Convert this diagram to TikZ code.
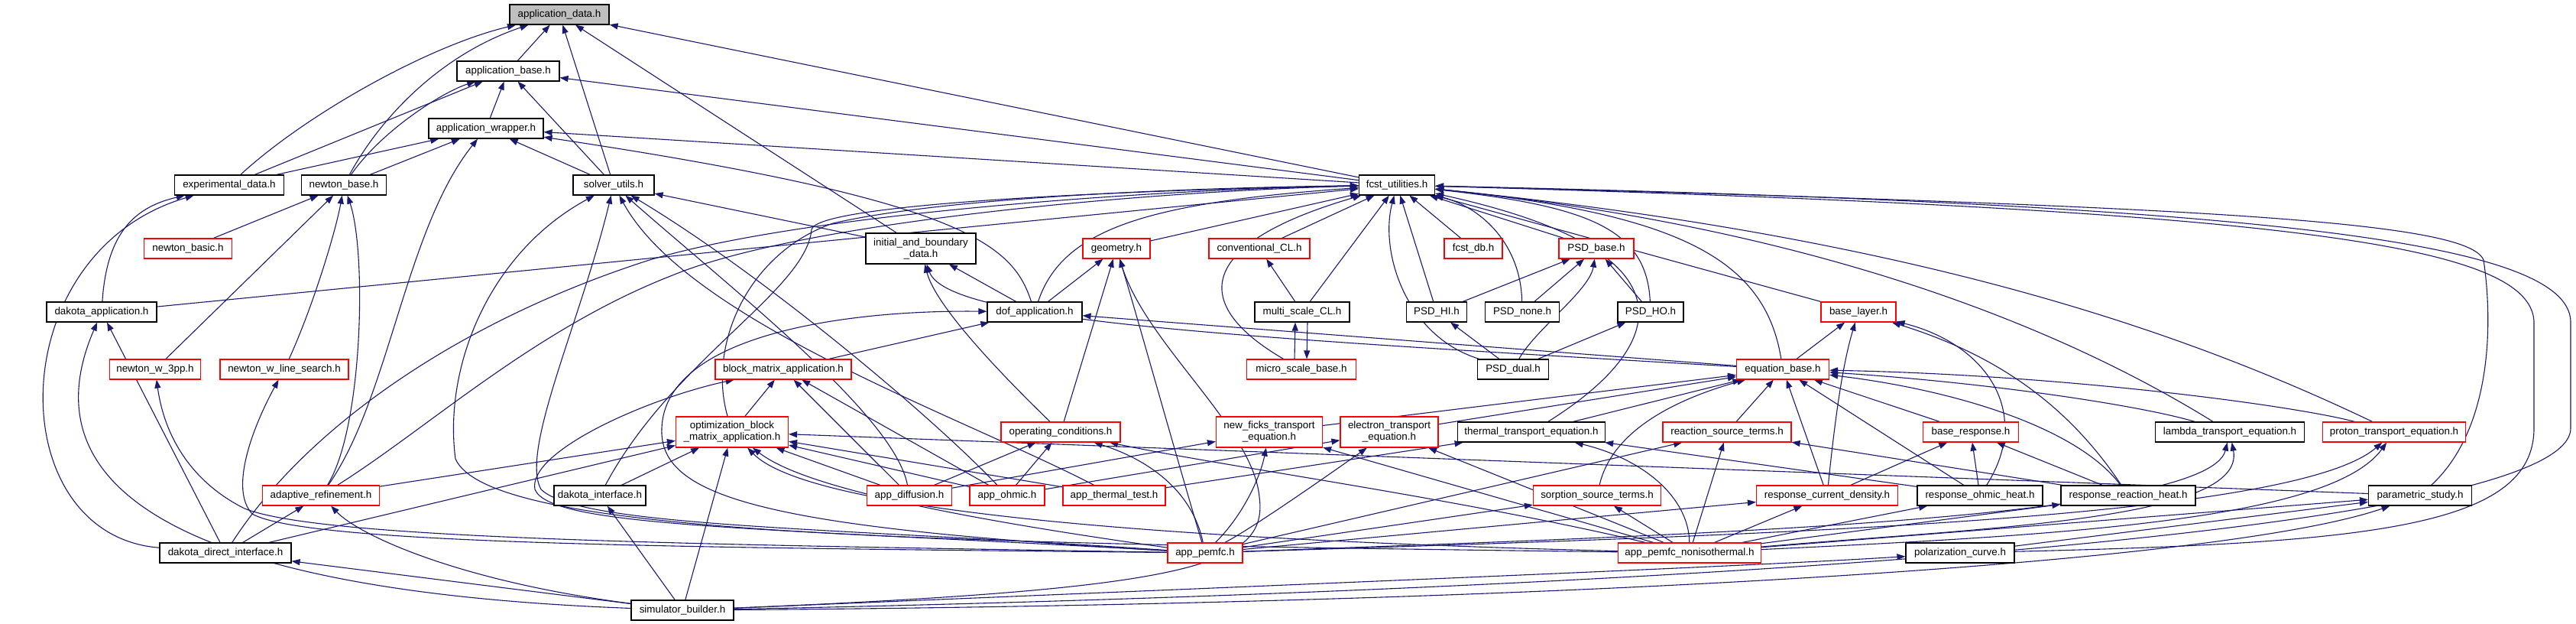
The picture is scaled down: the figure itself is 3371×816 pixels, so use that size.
\documentclass[tikz,border=0pt]{standalone}
\usepackage{fontspec}
\setmainfont{Liberation Sans}
\usetikzlibrary{arrows.meta,backgrounds,calc}
\definecolor{edgec}{HTML}{191970}
\definecolor{nodered}{HTML}{FF0000}
\definecolor{rootgray}{HTML}{BFBFBF}
\newcommand{\fsz}{\fontsize{13.4}{15}\selectfont}
\begin{document}
\begin{tikzpicture}[x=1pt,y=-1pt,
 nb/.style={draw=black, line width=1.2pt, fill=white, minimum height=26pt, inner sep=0pt, font=\fsz, align=center},
 nr/.style={nb, draw=nodered},
 tl/.style={minimum height=40pt},
 e/.style={draw=edgec, line width=1.1pt, -{Triangle[length=11pt,width=8pt]}},
]
\useasboundingbox (0,0) rectangle (3371,816);
% nodes
\node[nb,fill=rootgray,minimum width=130pt] (AD) at (732,19) {application\_data.h};
\node[nb,minimum width=134pt] (AB) at (665,93) {application\_base.h};
\node[nb,minimum width=150pt] (AW) at (636,168) {application\_wrapper.h};
\node[nb,minimum width=143pt] (ED) at (300,242) {experimental\_data.h};
\node[nb,minimum width=111pt] (NB) at (450,242) {newton\_base.h};
\node[nb,minimum width=106pt] (SU) at (803,242) {solver\_utils.h};
\node[nb,minimum width=99pt] (FU) at (1828,242) {fcst\_utilities.h};
\node[nr,minimum width=115pt] (NBa) at (246,325) {newton\_basic.h};
\node[nb,tl,minimum width=144pt] (IB) at (1205,325) {initial\_and\_boundary\\\_data.h};
\node[nr,minimum width=88pt] (GE) at (1461,325) {geometry.h};
\node[nr,minimum width=132pt] (CC) at (1648,325) {conventional\_CL.h};
\node[nr,minimum width=76pt] (FD) at (1928,325) {fcst\_db.h};
\node[nr,minimum width=98pt] (PB) at (2089,325) {PSD\_base.h};
\node[nb,minimum width=144pt] (DA) at (133,408) {dakota\_application.h};
\node[nb,minimum width=124pt] (DOF) at (1354,408) {dof\_application.h};
\node[nb,minimum width=124pt] (MS) at (1704,408) {multi\_scale\_CL.h};
\node[nb,minimum width=79pt] (PHI) at (1880,408) {PSD\_HI.h};
\node[nb,minimum width=97pt] (PN) at (1992,408) {PSD\_none.h};
\node[nb,minimum width=86pt] (PHO) at (2160,408) {PSD\_HO.h};
\node[nr,minimum width=98pt] (BL) at (2432,408) {base\_layer.h};
\node[nr,minimum width=119pt] (NW3) at (203,483) {newton\_w\_3pp.h};
\node[nr,minimum width=168pt] (NWL) at (372,483) {newton\_w\_line\_search.h};
\node[nr,minimum width=178pt] (BMA) at (1025,483) {block\_matrix\_application.h};
\node[nr,minimum width=143pt] (MSB) at (1703,483) {micro\_scale\_base.h};
\node[nb,minimum width=93pt] (PD) at (1980,483) {PSD\_dual.h};
\node[nr,minimum width=121pt] (EB) at (2333,483) {equation\_base.h};
\node[nr,tl,minimum width=147pt] (OBM) at (958,565) {optimization\_block\\\_matrix\_application.h};
\node[nr,minimum width=156pt] (OC) at (1388,565) {operating\_conditions.h};
\node[nr,tl,minimum width=139pt] (NF) at (1661,565) {new\_ficks\_transport\\\_equation.h};
\node[nr,tl,minimum width=128pt] (ET) at (1818,565) {electron\_transport\\\_equation.h};
\node[nb,minimum width=193pt] (TT) at (2004,565) {thermal\_transport\_equation.h};
\node[nr,minimum width=168pt] (RST) at (2260,565) {reaction\_source\_terms.h};
\node[nr,minimum width=125pt] (BR) at (2579,565) {base\_response.h};
\node[nb,minimum width=195pt] (LT) at (2918,565) {lambda\_transport\_equation.h};
\node[nr,minimum width=187pt] (PT) at (3133,565) {proton\_transport\_equation.h};
\node[nr,minimum width=153pt] (AR) at (420,648) {adaptive\_refinement.h};
\node[nb,minimum width=120pt] (DI) at (785,648) {dakota\_interface.h};
\node[nr,minimum width=111pt] (ADf) at (1190,648) {app\_diffusion.h};
\node[nr,minimum width=98pt] (AO) at (1318,648) {app\_ohmic.h};
\node[nr,minimum width=134pt] (ATT) at (1458,648) {app\_thermal\_test.h};
\node[nr,minimum width=167pt] (SST) at (2090,648) {sorption\_source\_terms.h};
\node[nr,minimum width=185pt] (RCD) at (2391,648) {response\_current\_density.h};
\node[nb,minimum width=164pt] (ROH) at (2591,648) {response\_ohmic\_heat.h};
\node[nb,minimum width=176pt] (RRH) at (2785,648) {response\_reaction\_heat.h};
\node[nb,minimum width=135pt] (PS) at (3167,648) {parametric\_study.h};
\node[nb,minimum width=172pt] (DDI) at (295,723) {dakota\_direct\_interface.h};
\node[nr,minimum width=98pt] (AP) at (1577,723) {app\_pemfc.h};
\node[nr,minimum width=187pt] (APN) at (2211,723) {app\_pemfc\_nonisothermal.h};
\node[nb,minimum width=142pt] (PC) at (2565,723) {polarization\_curve.h};
\node[nb,minimum width=134pt] (SB) at (893,798) {simulator\_builder.h};
\begin{scope}[on background layer]
\fill[white] (0,0) rectangle (3371,816);
% top cluster
\draw[e] (AB) -- (AD);
\draw[e] (ED) .. controls (400,150) and (560,60) .. (AD);
\draw[e] (NB) .. controls (500,150) and (580,70) .. (AD);
\draw[e] (SU) -- (AD);
\draw[e] (IB) -- (AD);
\draw[e] (FU) -- (AD);
\draw[e] (AW) -- (AB);
\draw[e] (ED) -- (AB);
\draw[e] (NB) .. controls (500,170) and (580,120) .. (AB);
\draw[e] (SU) -- (AB);
\draw[e] (FU) -- (AB);
\draw[e] (ED) -- (AW);
\draw[e] (NB) -- (AW);
\draw[e] (SU) -- (AW);
\draw[e] (FU) -- (AW);
\draw[e] (AR) .. controls (510,520) and (530,300) .. (AW);
\draw[e] (DOF) .. controls (1325,320) and (1265,262) .. (AW);
\draw[e] (DDI) .. controls (0,700) and (0,330) .. (ED);
\draw[e] (DA) .. controls (140,300) and (180,270) .. (ED);
\draw[e] (NBa) -- (NB);
\draw[e] (NW3) -- (NB);
\draw[e] (NWL) .. controls (410,400) and (440,300) .. (NB);
\draw[e] (AR) .. controls (475,560) and (480,330) .. (NB);
\draw[e] (IB) -- (SU);
\draw[e] (ADf) .. controls (1171,544) and (960,380) .. (SU);
\draw[e] (AO) .. controls (1219,544) and (1000,360) .. (SU);
\draw[e] (ATT) .. controls (1257,544) and (900,420) .. (SU);
\draw[e] (AP) .. controls (1100,690) and (760,690) .. (708,640) .. controls (680,590) and (760,420) .. (SU);
\draw[e] (APN) .. controls (1200,710) and (640,700) .. (596,600) .. controls (580,480) and (640,330) .. (SU);
% into fcst_utilities
\draw[e] (DA) -- (FU);
\draw[e] (AR) .. controls (560,560) and (700,430) .. (880,360) .. controls (1050,290) and (1500,250) .. (FU);
\draw[e] (DDI) .. controls (400,560) and (600,420) .. (850,340) .. controls (1050,280) and (1500,248) .. (FU);
\draw[e] (OBM) .. controls (925,450) and (980,330) .. (1090,292) .. controls (1250,255) and (1600,245) .. (FU);
\draw[e] (DI) .. controls (880,470) and (1055,380) .. (1062,300) .. controls (1070,265) and (1500,248) .. (FU);
\draw[e] (DOF) .. controls (1390,300) and (1500,265) .. (FU);
\draw[e] (GE) -- (FU);
\draw[e] (CC) -- (FU);
\draw[e] (MS) -- (FU);
\draw[e] (FD) -- (FU);
\draw[e] (PB) -- (FU);
\draw[e] (PHI) -- (FU);
\draw[e] (MSB) .. controls (1560,400) and (1560,320) .. (FU);
\draw[e] (PN) .. controls (1990,320) and (1940,272) .. (FU);
\draw[e] (PHO) .. controls (2155,300) and (2080,270) .. (FU);
\draw[e] (PD) .. controls (1840,440) and (1805,330) .. (FU);
\draw[e] (TT) .. controls (2180,455) and (2230,330) .. (FU);
\draw[e] (EB) .. controls (2310,340) and (2200,280) .. (FU);
\draw[e] (BL) -- (FU);
\draw[e] (LT) .. controls (2716,440) and (2400,300) .. (FU);
\draw[e] (PT) .. controls (2850,430) and (2500,310) .. (FU);
\draw[e] (PS) .. controls (3262,560) and (3262,420) .. (3250,340) .. controls (3230,290) and (2900,270) .. (FU);
\draw[e] (PC) .. controls (3100,710) and (3316,690) .. (3316,560) -- (3316,420) .. controls (3310,320) and (3000,275) .. (FU);
\draw[e] (SB) .. controls (1800,780) and (3364,720) .. (3364,560) -- (3364,420) .. controls (3360,320) and (3000,268) .. (FU);
% middle
\draw[e] (DOF) -- (IB);
\draw[e] (DOF) -- (GE);
\draw[e] (BMA) -- (DOF);
\draw[e] (AP) .. controls (1000,690) and (862,650) .. (866,560) .. controls (870,440) and (1100,405) .. (DOF);
\draw[e] (EB) -- (DOF);
\draw[e] (EB) .. controls (1600,440) and (1240,420) .. (IB);
\draw[e] (OC) .. controls (1251,432) and (1219,380) .. (IB);
\draw[e] (OC) -- (GE);
\draw[e] (AP) .. controls (1540,600) and (1490,420) .. (GE);
\draw[e] (SB) .. controls (1560,770) and (1660,740) .. (1648,650) .. controls (1640,560) and (1500,450) .. (GE);
\draw[e] (MS) -- (CC);
\draw[e] ([xshift=-9pt]MSB.north) -- ([xshift=-9pt]MS.south);
\draw[e] ([xshift=7pt]MS.south) -- ([xshift=7pt]MSB.north);
\draw[e] (PHI) -- (PB);
\draw[e] (PN) -- (PB);
\draw[e] (PHO) -- (PB);
\draw[e] (PD) .. controls (2010,430) and (2080,380) .. (PB);
\draw[e] (PD) -- (PHI);
\draw[e] (PD) -- (PHO);
\draw[e] (EB) -- (BL);
\draw[e] (RCD) .. controls (2400,560) and (2410,480) .. (BL);
\draw[e] (ROH) .. controls (2660,540) and (2600,450) .. (BL);
\draw[e] (RRH) .. controls (2700,520) and (2600,460) .. (BL);
% into equation_base
\draw[e] (NF) -- (EB);
\draw[e] (ET) -- (EB);
\draw[e] (TT) -- (EB);
\draw[e] (SST) .. controls (2110,560) and (2200,520) .. (EB);
\draw[e] (RST) -- (EB);
\draw[e] (RCD) -- (EB);
\draw[e] (ROH) -- (EB);
\draw[e] (BR) -- (EB);
\draw[e] (LT) .. controls (2800,530) and (2600,500) .. (EB);
\draw[e] (PT) .. controls (3000,530) and (2700,490) .. (EB);
\draw[e] (RRH) .. controls (2720,560) and (2560,510) .. (EB);
\draw[e] (RRH) -- (RST);
\draw[e] (ROH) -- (TT);
\draw[e] (RCD) -- (BR);
\draw[e] (ROH) -- (BR);
\draw[e] (RRH) -- (BR);
% lower apps
\draw[e] (ADf) -- (BMA);
\draw[e] (AO) -- (BMA);
\draw[e] (OBM) -- (BMA);
\draw[e] (AP) .. controls (1000,690) and (720,690) .. (700,640) .. controls (690,590) and (850,520) .. (BMA);
\draw[e] (ADf) -- (OBM);
\draw[e] (AO) -- (OBM);
\draw[e] (ATT) -- (OBM);
\draw[e] (AR) -- (OBM);
\draw[e] (DDI) -- (OBM);
\draw[e] (DI) -- (OBM);
\draw[e] (SB) -- (OBM);
\draw[e] (PS) -- (OBM);
\draw[e] (AP) .. controls (1133,661) and (1030,620) .. (OBM);
\draw[e] (APN) .. controls (1500,705) and (1058,667) .. (OBM);
\draw[e] (ADf) -- (OC);
\draw[e] (AO) -- (OC);
\draw[e] (AP) .. controls (1560,640) and (1500,600) .. (OC);
\draw[e] (APN) .. controls (1900,650) and (1600,610) .. (OC);
\draw[e] (ADf) -- (NF);
\draw[e] (AO) -- (ET);
\draw[e] (ATT) -- (TT);
\draw[e] (AP) .. controls (1630,670) and (1650,620) .. (NF);
\draw[e] (AP) .. controls (1640,690) and (1740,620) .. (ET);
\draw[e] (APN) -- (NF);
\draw[e] (APN) -- (ET);
\draw[e] (APN) .. controls (2210,650) and (2150,600) .. (TT);
\draw[e] (APN) -- (RST);
\draw[e] (APN) -- (SST);
\draw[e] (APN) -- (RCD);
\draw[e] (APN) -- (ROH);
\draw[e] (APN) -- (RRH);
\draw[e] (APN) .. controls (2600,690) and (2940,680) .. (LT);
\draw[e] (APN) .. controls (2700,700) and (3050,680) .. (PT);
\draw[e] (APN) -- (PS);
\draw[e] (AP) -- (SST);
\draw[e] (AP) -- (RCD);
\draw[e] (AP) -- (RST);
\draw[e] (AP) .. controls (2200,700) and (2890,680) .. (LT);
\draw[e] (AP) .. controls (2300,700) and (3000,680) .. (PT);
\draw[e] (AP) .. controls (900,712) and (420,705) .. (320,665) .. controls (250,630) and (215,570) .. (NW3);
\draw[e] (AP) .. controls (900,716) and (400,712) .. (330,672) .. controls (300,640) and (330,560) .. (NWL);
% simulator builder etc.
\draw[e] (SB) -- (DDI);
\draw[e] (SB) .. controls (600,760) and (470,700) .. (AR);
\draw[e] (SB) .. controls (150,770) and (50,600) .. (DA);
\draw[e] (SB) -- (DI);
\draw[e] (SB) .. controls (1800,760) and (2300,740) .. (PC);
\draw[e] (SB) .. controls (2000,790) and (2900,740) .. (PS);
\draw[e] (DDI) -- (AR);
\draw[e] (DDI) -- (DA);
\draw[e] (PC) -- (PS);
\end{scope}
\end{tikzpicture}
\end{document}
